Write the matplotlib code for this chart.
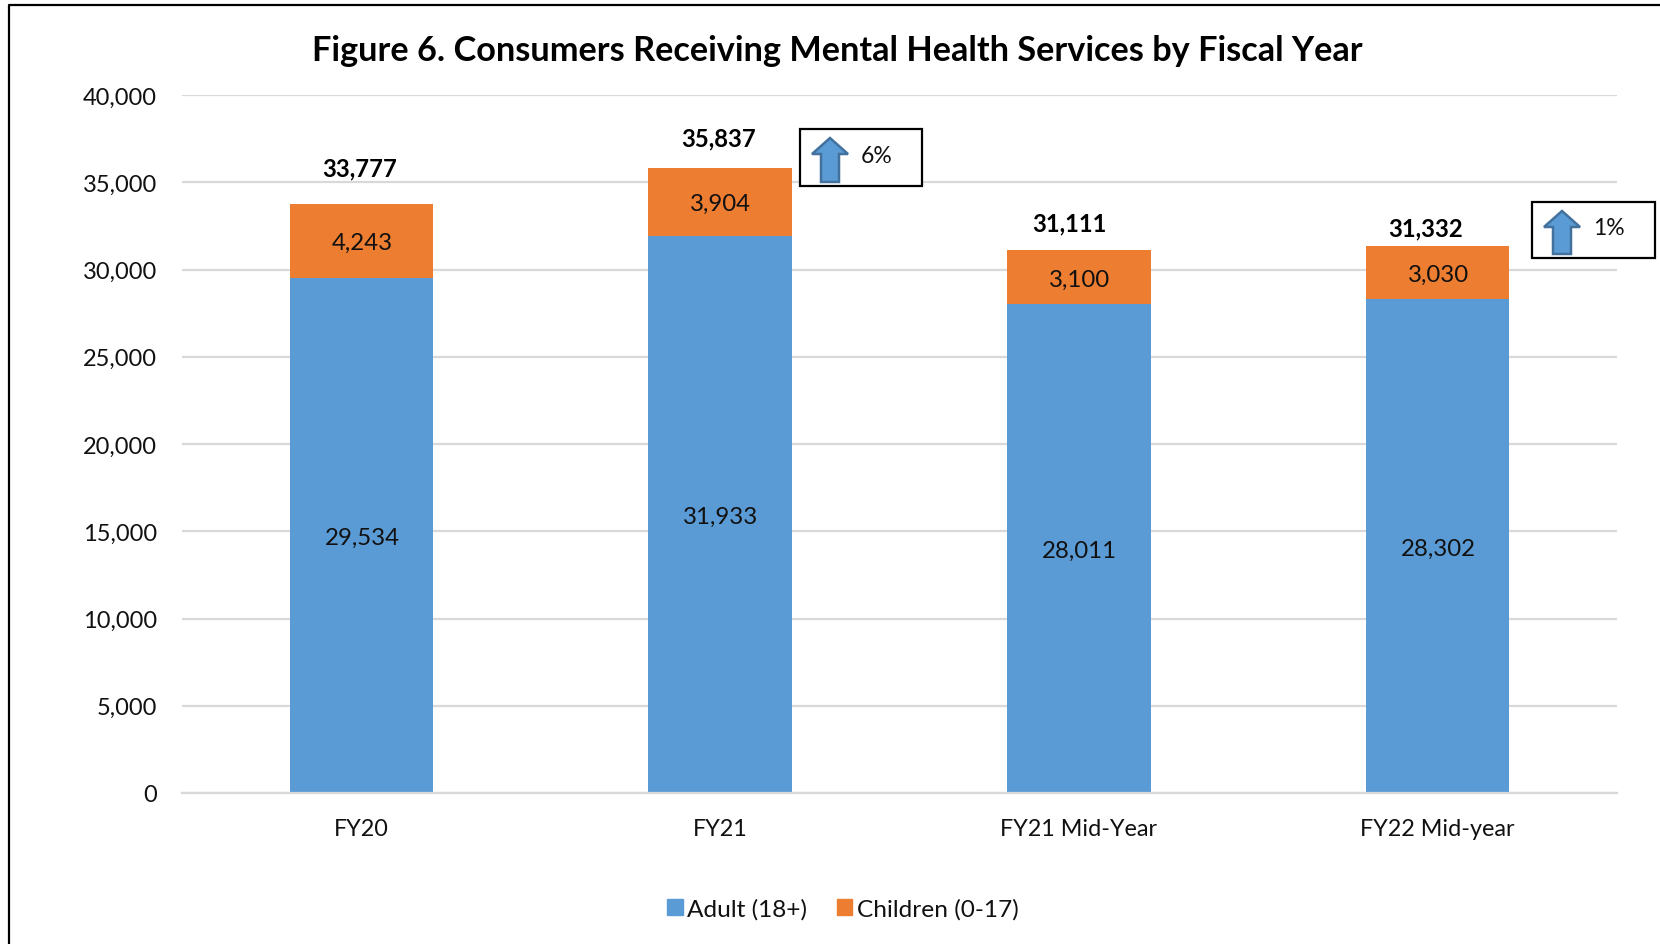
import matplotlib
matplotlib.use("Agg")
import matplotlib.pyplot as plt
from matplotlib.lines import Line2D
from matplotlib.patches import Polygon, Rectangle
from matplotlib.ticker import FuncFormatter

plt.rcParams["font.family"] = ["Lato", "DejaVu Sans"]

# Consumer counts per fiscal period
categories = ["FY20", "FY21", "FY21 Mid-Year", "FY22 Mid-year"]
adult = [29534, 31933, 28011, 28302]
children = [4243, 3904, 3100, 3030]
totals = [33777, 35837, 31111, 31332]
series_names = ["Adult (18+)", "Children (0-17)"]
title = "Figure 6. Consumers Receiving Mental Health Services by Fiscal Year"
y_ticks = list(range(0, 40001, 5000))

BLUE = "#5B9BD5"
ORANGE = "#ED7D31"
GRID = "#D9D9D9"
W, H = 1660, 945

fig = plt.figure(figsize=(W / 100, H / 100), dpi=100, facecolor="white")
ax = fig.add_axes([182 / W, 1 - 794 / H, 1435 / W, 698 / H])


def px(x, y):
    """Convert top-left pixel coordinates to figure fractions."""
    return x / W, 1 - y / H


positions = range(len(categories))
ax.bar(positions, adult, width=0.4, color=BLUE, zorder=2, label=series_names[0])
ax.bar(positions, children, width=0.4, bottom=adult, color=ORANGE, zorder=2,
       label=series_names[1])

ax.set_xlim(-0.5, 3.5)
ax.set_ylim(0, 40000)
ax.set_yticks(y_ticks)
ax.set_xticks(list(positions), categories)
ax.yaxis.set_major_formatter(FuncFormatter(lambda v, _: f"{int(v):,}"))
ax.tick_params(axis="y", length=0, pad=18, labelsize=17, labelcolor="#111111")
ax.tick_params(axis="x", length=0, pad=18, labelsize=16.8, labelcolor="#111111")
ax.grid(axis="y", color=GRID, lw=1.6, zorder=1)
ax.set_axisbelow(True)
for side in ("top", "right", "left"):
    ax.spines[side].set_visible(False)
ax.spines["bottom"].set_color(GRID)
ax.spines["bottom"].set_linewidth(1.6)

# Segment values centred in each stack piece, sitting slightly low
for i in positions:
    ax.annotate(f"{adult[i]:,}", xy=(i, adult[i] / 2), xytext=(0.5, -1.5),
                textcoords="offset points", ha="center", va="center",
                fontsize=17.3, color="#111111", zorder=3)
    ax.annotate(f"{children[i]:,}", xy=(i, adult[i] + children[i] / 2), xytext=(0.5, -1.5),
                textcoords="offset points", ha="center", va="center",
                fontsize=17.3, color="#111111", zorder=3)

# Totals sit above the bars, nudged by hand as in the manual layout
total_offsets_px = [(-2, 36), (-2, 30), (-9, 27), (-12, 18)]
for i, (dx, dy) in zip(positions, total_offsets_px):
    ax.annotate(f"{totals[i]:,}", xy=(i, totals[i]), xytext=(dx * 0.72, dy * 0.72),
                textcoords="offset points", ha="center", va="center",
                fontsize=17.2, fontweight="bold", color="black", zorder=3)

fig.text(*px(837, 51), title, ha="center", va="center", fontsize=24.7,
         fontweight="bold", color="black")


def change_badge(left, top, right, bottom, label):
    """Boxed up-arrow callout showing a percentage change."""
    fig.add_artist(Rectangle(px(left, bottom), (right - left) / W, (bottom - top) / H,
                             transform=fig.transFigure, facecolor="white",
                             edgecolor="black", lw=1.6, zorder=5))
    cx = left + 30
    pts = [(cx, top + 9), (cx + 18, top + 25), (cx + 9, top + 25), (cx + 9, bottom - 4),
           (cx - 9, bottom - 4), (cx - 9, top + 25), (cx - 18, top + 25)]
    fig.add_artist(Polygon([px(*p) for p in pts], closed=True, transform=fig.transFigure,
                           facecolor=BLUE, edgecolor="#41719C", lw=1.8, zorder=6))
    fig.text(*px(left + 77, (top + bottom) / 2 - 2), label, ha="center", va="center",
             fontsize=16.5, color="#111111", zorder=7)


change_badge(800, 130, 922, 187, "6%")
change_badge(1532, 203, 1655, 259, "1%")

# Outer frame: only the top and left edges fall inside the canvas
fig.add_artist(Line2D([px(9, 0)[0], px(9, 0)[0], 1], [0, px(0, 6)[1], px(0, 6)[1]],
                      transform=fig.transFigure, color="black", lw=1.6))

handles = [Rectangle((0, 0), 1, 1, color=BLUE), Rectangle((0, 0), 1, 1, color=ORANGE)]
fig.legend(handles, series_names, loc="center", bbox_to_anchor=px(843, 910), ncol=2,
           frameon=False, fontsize=17.6, handlelength=0.62, handleheight=0.62,
           handletextpad=0.2, columnspacing=1.2, labelcolor="#111111")

fig.savefig("out.png", dpi=100)
